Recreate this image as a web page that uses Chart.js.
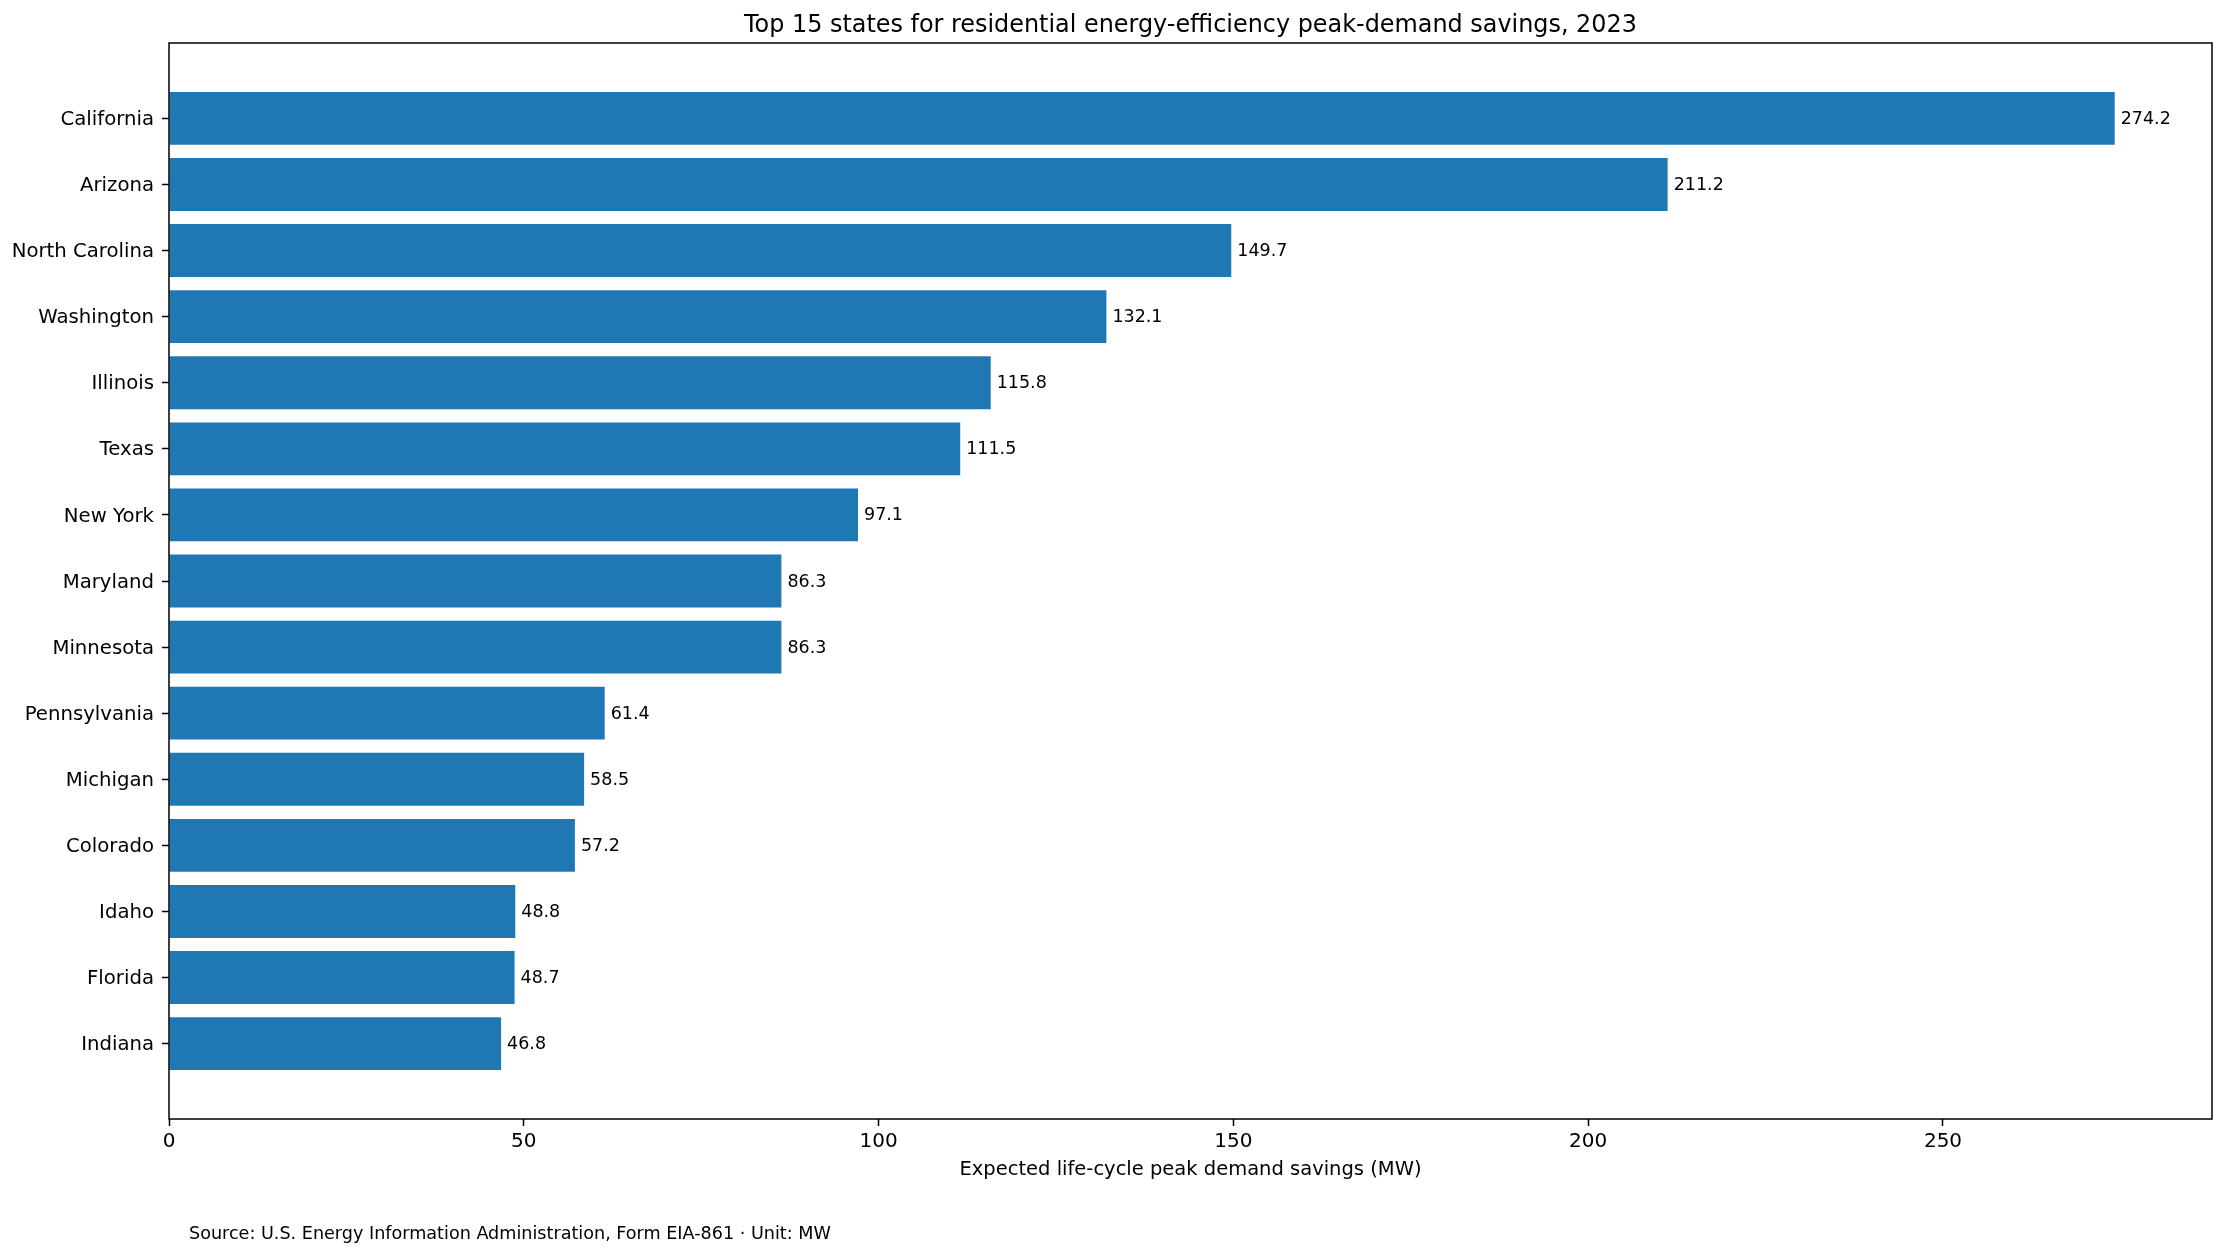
<!DOCTYPE html>
<html>
<head>
<meta charset="utf-8">
<script src="https://cdn.jsdelivr.net/npm/chart.js@4.4.1/dist/chart.umd.min.js"></script>
<style>
  html, body { margin: 0; padding: 0; background: #fff; }
  #wrap { width: 2226px; height: 1255px; }
</style>
</head>
<body>
<div id="wrap"><canvas id="myChart" width="2226" height="1255"></canvas></div>
<script>
// data
const states = ["California", "Arizona", "North Carolina", "Washington", "Illinois", "Texas", "New York",
  "Maryland", "Minnesota", "Pennsylvania", "Michigan", "Colorado", "Idaho", "Florida", "Indiana"];
const savings = [274.2, 211.2, 149.7, 132.1, 115.8, 111.5, 97.1, 86.3, 86.3, 61.4, 58.5, 57.2, 48.8, 48.7, 46.8];
const xTicks = [0, 50, 100, 150, 200, 250];

const chartTitle = "Top 15 states for residential energy-efficiency peak-demand savings, 2023";
const xTitle = "Expected life-cycle peak demand savings (MW)";
const sourceNote = "Source: U.S. Energy Information Administration, Form EIA-861 \u00b7 Unit: MW";

const FONT = "'DejaVu Sans', sans-serif";
const barColor = "#1f77b4";

// matplotlib style limits: 5% margin around the data
const xMax = Math.max(...savings) * 1.05;
const yPad = (states.length - 1 + 0.8) * 0.05;
const yMin = -0.4 - yPad;
const yMax = states.length - 1 + 0.4 + yPad;

const extras = {
  id: "extras",
  afterDraw(chart) {
    const ctx = chart.ctx;
    const area = chart.chartArea;
    const xs = chart.scales.x;
    const ys = chart.scales.y;
    ctx.save();

    // box around plot
    ctx.strokeStyle = "#000";
    ctx.lineWidth = 1.5;
    ctx.strokeRect(area.left, area.top, area.right - area.left, area.bottom - area.top);

    // value labels
    ctx.fillStyle = "#000";
    ctx.font = "17.5px " + FONT;
    ctx.textAlign = "left";
    ctx.textBaseline = "middle";
    savings.forEach((v, i) => {
      ctx.fillText(v.toFixed(1), xs.getPixelForValue(v) + 6, ys.getPixelForValue(i) + 1);
    });

    // title
    ctx.font = "23.9px " + FONT;
    ctx.textAlign = "center";
    ctx.textBaseline = "alphabetic";
    ctx.fillText(chartTitle, (area.left + area.right) / 2, 32);

    // x axis title
    ctx.font = "19.5px " + FONT;
    ctx.fillText(xTitle, (area.left + area.right) / 2, 1175);

    // source note
    ctx.font = "17.6px " + FONT;
    ctx.textAlign = "left";
    ctx.fillText(sourceNote, 189, 1239);
    ctx.restore();
  }
};

new Chart(document.getElementById("myChart").getContext("2d"), {
  type: "bar",
  data: {
    datasets: [{
      data: savings.map((v, i) => ({ x: v, y: i })),
      backgroundColor: barColor,
      borderWidth: 0,
      barPercentage: 0.8,
      categoryPercentage: 1.0
    }]
  },
  options: {
    indexAxis: "y",
    responsive: false,
    devicePixelRatio: 1,
    animation: false,
    layout: { padding: { top: 43, right: 14, bottom: 0, left: 0 } },
    plugins: {
      legend: { display: false },
      tooltip: { enabled: false },
      title: { display: false }
    },
    scales: {
      x: {
        type: "linear",
        min: 0,
        max: xMax,
        offset: false,
        afterFit(scale) { scale.height = 136; },
        afterBuildTicks(scale) { scale.ticks = xTicks.map(v => ({ value: v })); },
        grid: { offset: false, drawOnChartArea: false, drawTicks: true, tickLength: 7, tickWidth: 1.5, color: "#000" },
        border: { display: false },
        ticks: { color: "#000", font: { family: FONT, size: 20 }, padding: 4, maxRotation: 0 }
      },
      y: {
        type: "linear",
        reverse: true,
        min: yMin,
        max: yMax,
        offset: false,
        afterFit(scale) { scale.width = 169; },
        afterBuildTicks(scale) { scale.ticks = states.map((s, i) => ({ value: i })); },
        grid: { offset: false, drawOnChartArea: false, drawTicks: true, tickLength: 7, tickWidth: 1.5, color: "#000" },
        border: { display: false },
        ticks: {
          color: "#000",
          font: { family: FONT, size: 19.7 },
          padding: 8,
          labelOffset: 1.5,
          autoSkip: false,
          callback: (v) => states[v]
        }
      }
    }
  },
  plugins: [extras]
});
</script>
</body>
</html>
